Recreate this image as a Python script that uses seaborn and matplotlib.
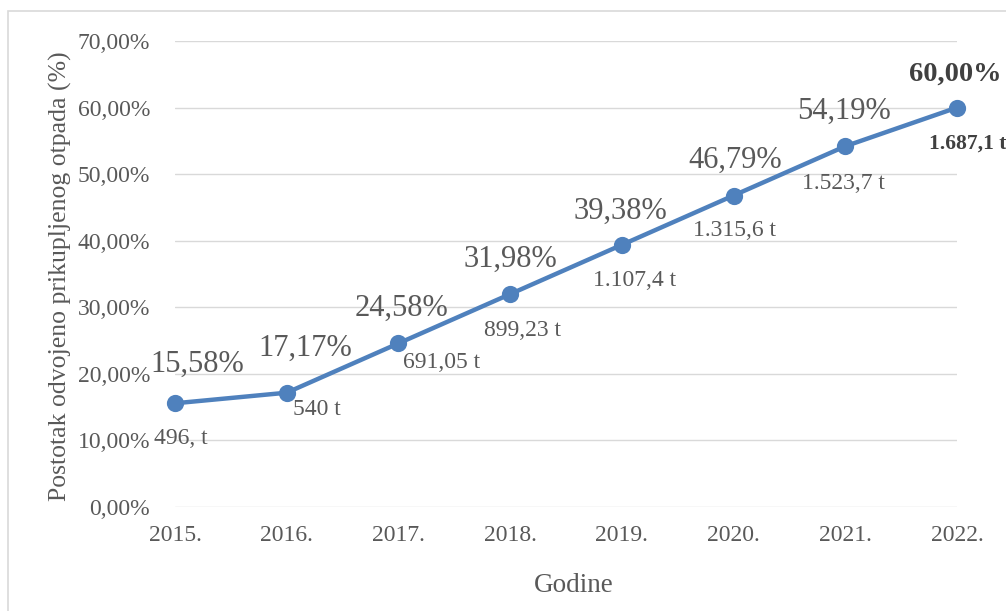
import matplotlib
matplotlib.use("Agg")
import matplotlib.pyplot as plt
import matplotlib.patches as patches
from matplotlib.ticker import FuncFormatter, MultipleLocator
import seaborn as sns
import pandas as pd

# -----------------------------
# Data
# -----------------------------
godine = ["2015.", "2016.", "2017.", "2018.", "2019.", "2020.", "2021.", "2022."]
postotak = [15.58, 17.17, 24.58, 31.98, 39.38, 46.79, 54.19, 60.00]
postotak_txt = ["15,58%", "17,17%", "24,58%", "31,98%", "39,38%", "46,79%", "54,19%", "60,00%"]
tone_txt = ["496, t", "540 t", "691,05 t", "899,23 t", "1.107,4 t", "1.315,6 t", "1.523,7 t", "1.687,1 t"]

df = pd.DataFrame({"Godine": godine, "Postotak": postotak})

# label offsets in points (dx, dy) relative to each point
off_pct = [(16, 28), (13, 32), (2, 25), (0, 25), (-1, 24), (1, 25), (-1, 25), (-1, 24)]
off_t = [(4, -25), (22, -12), (31, -14), (9, -26), (9, -26), (1, -25), (-1, -27), (8, -26)]

sns.set_theme(style="white")
plt.rcParams["font.family"] = ["Liberation Serif", "DejaVu Serif"]

gray = "#595959"
blue = "#4F81BD"

fig = plt.figure(figsize=(10.06, 6.11), dpi=100)
ax = fig.add_axes([175 / 1006, 1 - 507 / 611, (957 - 175) / 1006, (507 - 41) / 611])

sns.pointplot(data=df, x="Godine", y="Postotak", color=blue, markers="o",
              linestyles="-", markersize=10, linewidth=3.2, ax=ax)
for art in ax.lines + ax.collections:
    art.set_clip_on(False)

ax.set_xlim(0, len(godine) - 1)
ax.set_ylim(0, 70)
ax.yaxis.set_major_locator(MultipleLocator(10))
ax.yaxis.set_major_formatter(FuncFormatter(lambda v, p: f"{v:.2f}".replace(".", ",") + "%"))
ax.grid(axis="y", color="#D9D9D9", linewidth=1.0)
ax.set_axisbelow(True)
for s in ax.spines.values():
    s.set_visible(False)
ax.tick_params(axis="both", length=0, labelsize=17, labelcolor=gray)
ax.tick_params(axis="y", pad=18)
ax.tick_params(axis="x", pad=13)

ax.set_xlabel("Godine", fontsize=19.5, color=gray)
ax.xaxis.set_label_coords(0.51, -0.142)
ax.set_ylabel("Postotak odvojeno prikupljenog otpada (%)", fontsize=18.5, color=gray)
ax.yaxis.set_label_coords(-0.132, 0.495)

# data labels
n = len(godine)
for i in range(n):
    last = i == n - 1
    ax.annotate(postotak_txt[i], (i, postotak[i]), xytext=off_pct[i], textcoords="offset points",
                ha="center", va="center", fontsize=20.5 if last else 22,
                color="#404040" if last else gray,
                fontweight="bold" if last else "normal", annotation_clip=False)
    ax.annotate(tone_txt[i], (i, postotak[i]), xytext=off_t[i], textcoords="offset points",
                ha="center", va="center", fontsize=15.5 if last else 17,
                color="#404040" if last else gray,
                fontweight="bold" if last else "normal", annotation_clip=False)

# chart border
fig.patches.append(patches.Rectangle((8 / 1006, -0.1), 1.2, 1 - 11 / 611 + 0.1,
                                     transform=fig.transFigure, fill=False,
                                     edgecolor="#D9D9D9", linewidth=1.2))

fig.savefig("out.png", dpi=100)
